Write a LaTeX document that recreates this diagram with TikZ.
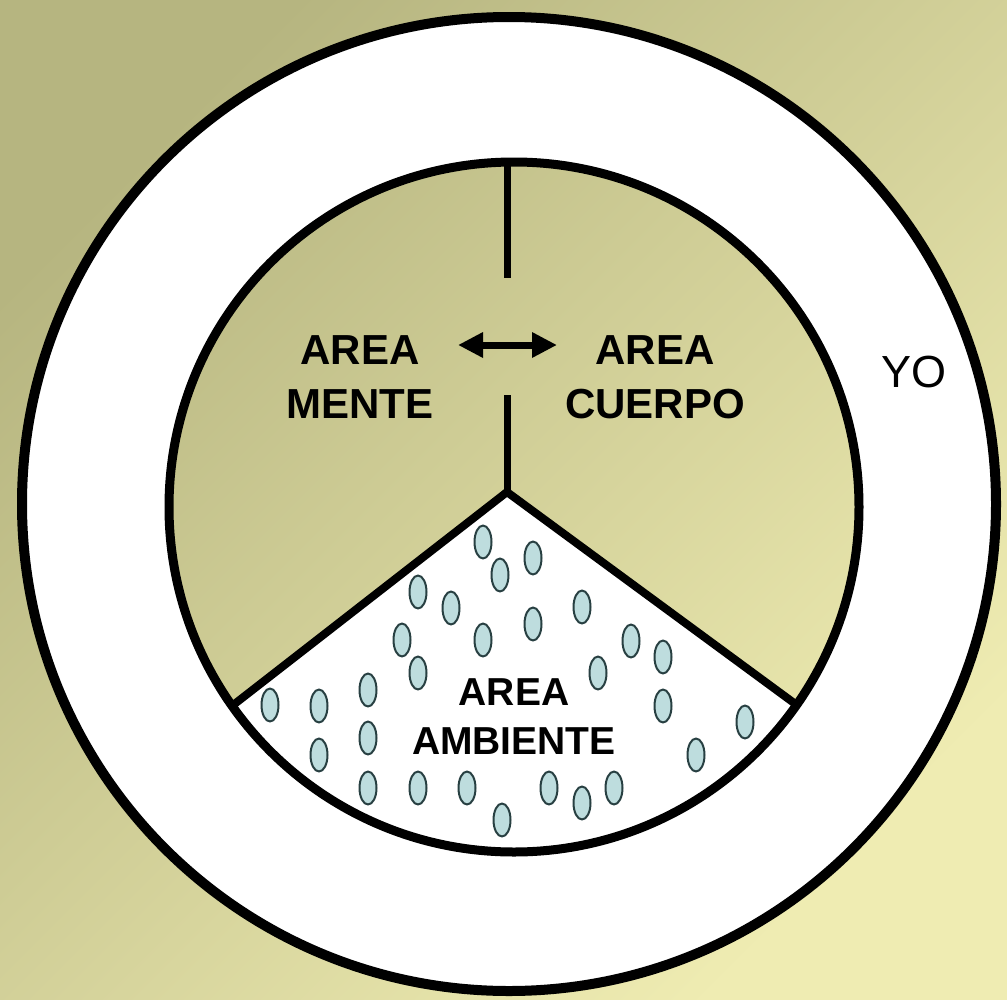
\documentclass[tikz,border=0pt]{standalone}
\usepackage{fontspec}
\setmainfont{Liberation Sans}
\usetikzlibrary{arrows.meta, calc}

\definecolor{fondoOscuro}{RGB}{182,181,128}
\definecolor{fondoClaro}{RGB}{239,236,178}
\definecolor{gotaRelleno}{RGB}{190,221,222}
\definecolor{gotaBorde}{RGB}{40,64,66}

\begin{document}
\begin{tikzpicture}[x=1pt, y=-1pt, line join=round,
	fondo/.style={top color=fondoOscuro, bottom color=fondoClaro, shading angle=45},
	borde/.style={black, line width=9pt},
	gota/.style={fill=gotaRelleno, draw=gotaBorde, line width=2pt},
	etiqueta/.style={font=\bfseries\fontsize{42}{54}\selectfont, align=center, inner sep=0pt}]

\useasboundingbox (0,0) rectangle (1007,999);

%========================
% background and YO ring
%========================
\shade[fondo] (0,0) rectangle (1007,999);
\coordinate (centroYo) at (509,504);
\fill[white] (centroYo) circle (487);
\draw[borde, line width=10pt] (centroYo) circle (487);
\node[font=\fontsize{45}{50}\selectfont, inner sep=0pt] (yo) at (914,372) {YO};

%========================
% inner circle: mente / cuerpo / ambiente
%========================
\coordinate (centro) at (514,507);
\begin{scope}
	\clip (centro) circle (345);
	\shade[fondo] (0,0) rectangle (1007,999);
\end{scope}

% sector AMBIENTE (white, bounded by the inner circle)
\coordinate (vertice) at (507,492);
\coordinate (finIzq) at ($(centro)+(144.8:345)$);
\coordinate (finDer) at ($(centro)+(35:345)$);
\fill[white] (vertice) -- (finIzq) arc[start angle=144.8, end angle=35, radius=345] -- cycle;

% drops
\foreach \gx/\gy in {483/542, 533/558, 500/575, 418/592, 451/608, 582/607, 533/624,
	483/640, 402/640, 631/641, 663/657, 418/673, 598/673, 368/690, 270/705,
	319/706, 663/706, 745/722, 368/738, 319/755, 696/755, 368/788, 418/788,
	467/788, 549/788, 614/788, 582/803, 502/820}
	\draw[gota] (\gx,\gy) ellipse (8.5pt and 16.5pt);

% dividing lines
\coordinate (arriba) at (507,160);
\coordinate (corteSup) at (507,278);
\coordinate (corteInf) at (507,395);
\draw[black, line width=7pt] (arriba) -- (corteSup);
\draw[black, line width=7pt] (corteInf) -- (vertice);
\draw[black, line width=8pt] (finIzq) -- (vertice) -- (finDer);
\draw[borde] (centro) circle (345);

% labels
\node[etiqueta] (mente) at (360,377) {AREA\\MENTE};
\node[etiqueta] (cuerpo) at (655,377) {AREA\\CUERPO};
\node[etiqueta, font=\bfseries\fontsize{39}{49}\selectfont] (ambiente) at (514,717) {AREA\\AMBIENTE};

% two-way arrow between mente and cuerpo
\coordinate (flechaIzq) at (458,345);
\coordinate (flechaDer) at (557,345);
\draw[black, line width=7pt, {Triangle[length=25pt, width=24pt]}-{Triangle[length=25pt, width=24pt]}]
	(flechaIzq) -- (flechaDer);

\end{tikzpicture}
\end{document}
